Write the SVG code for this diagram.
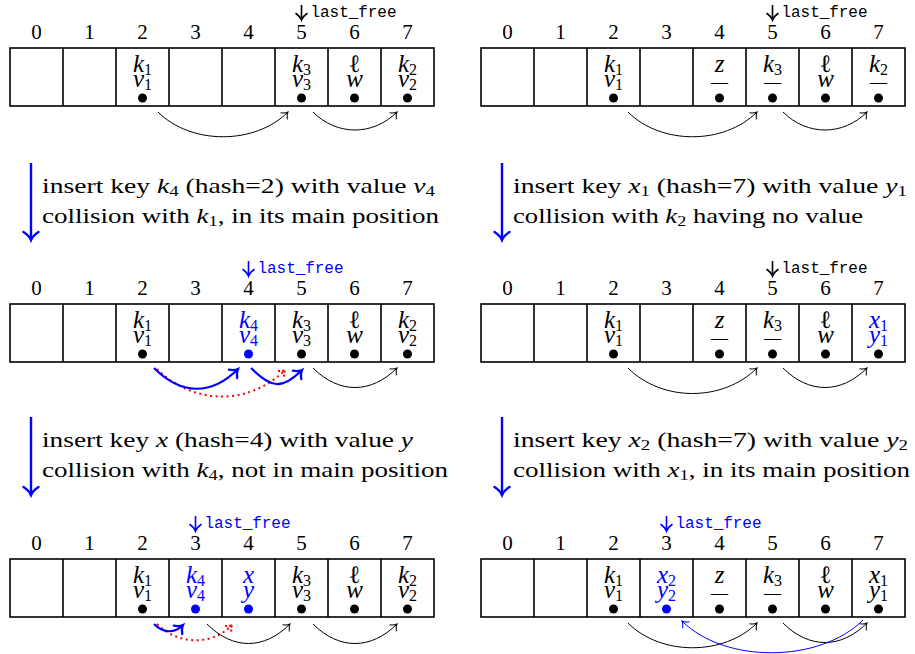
<svg xmlns="http://www.w3.org/2000/svg" width="915" height="654" viewBox="0 0 915 654">
<defs>
<style>
.tb{fill:none;stroke:#000;stroke-width:1.6}
.idx{font-family:"Liberation Serif",serif;font-size:21px;text-anchor:middle;fill:#000}
.m{font-family:"Liberation Serif","DejaVu Serif",serif;font-style:italic;font-size:25px;text-anchor:middle;fill:#000}
.r{font-style:normal}
.s{font-style:normal;font-size:16px}
.dash{font-style:normal;font-size:17px}
.lf{font-family:"Liberation Mono",monospace;font-size:16px;fill:#000}
.cap{font-family:"Liberation Serif",serif;font-size:22px;fill:#000}
.i{font-style:italic}
.cs{font-size:15px}
.b{fill:#0000ff}
.arc{fill:none;stroke:#000;stroke-width:1}
.barc{fill:none;stroke:#0000ff;stroke-width:2.2}
.tarc{fill:none;stroke:#0000ff;stroke-width:1}
.rarc{fill:none;stroke:#ff0000;stroke-width:2;stroke-dasharray:2 3.5}
.capar{fill:none;stroke:#0000ff;stroke-width:2.4}
.lfk{fill:none;stroke:#000;stroke-width:1.6}
.lfb{fill:none;stroke:#0000ff;stroke-width:1.6}
</style>
<marker id="ak" viewBox="-10 -10 20 20" markerWidth="20" markerHeight="20" refX="0" refY="0" orient="auto" markerUnits="userSpaceOnUse" overflow="visible"><path d="M-5.5,-4.5 C-3.5,-1.8 -1.3,-0.5 0,0 C-1.3,0.5 -3.5,1.8 -5.5,4.5" fill="none" stroke="#000" stroke-width="1" stroke-linecap="round"/></marker>
<marker id="at" viewBox="-10 -10 20 20" markerWidth="20" markerHeight="20" refX="0" refY="0" orient="auto" markerUnits="userSpaceOnUse" overflow="visible"><path d="M-5.5,-4.5 C-3.5,-1.8 -1.3,-0.5 0,0 C-1.3,0.5 -3.5,1.8 -5.5,4.5" fill="none" stroke="#0000ff" stroke-width="1" stroke-linecap="round"/></marker>
<marker id="ab" viewBox="-10 -10 20 20" markerWidth="20" markerHeight="20" refX="0" refY="0" orient="auto" markerUnits="userSpaceOnUse" overflow="visible"><path d="M-7,-6 C-4.5,-2.4 -1.7,-0.6 0,0 C-1.7,0.6 -4.5,2.4 -7,6" fill="none" stroke="#0000ff" stroke-width="2.2" stroke-linecap="round"/></marker>
<marker id="ar" viewBox="-10 -10 20 20" markerWidth="20" markerHeight="20" refX="0" refY="0" orient="auto" markerUnits="userSpaceOnUse" overflow="visible"><path d="M-5.5,-4.5 C-3.5,-1.8 -1.3,-0.5 0,0 C-1.3,0.5 -3.5,1.8 -5.5,4.5" fill="none" stroke="#ff0000" stroke-width="2" stroke-dasharray="2 2"/></marker>
<marker id="acap" viewBox="-10 -10 20 20" markerWidth="20" markerHeight="20" refX="0" refY="0" orient="auto" markerUnits="userSpaceOnUse" overflow="visible"><path d="M-8,-7.5 C-5,-3 -2,-0.8 0,0 C-2,0.8 -5,3 -8,7.5" fill="none" stroke="#0000ff" stroke-width="2.4" stroke-linecap="round"/></marker>
<marker id="alfk" viewBox="-10 -10 20 20" markerWidth="20" markerHeight="20" refX="0" refY="0" orient="auto" markerUnits="userSpaceOnUse" overflow="visible"><path d="M-6.5,-5.5 C-4,-2 -1.5,-0.5 0,0 C-1.5,0.5 -4,2 -6.5,5.5" fill="none" stroke="#000" stroke-width="1.6" stroke-linecap="round"/></marker>
<marker id="alfb" viewBox="-10 -10 20 20" markerWidth="20" markerHeight="20" refX="0" refY="0" orient="auto" markerUnits="userSpaceOnUse" overflow="visible"><path d="M-6.5,-5.5 C-4,-2 -1.5,-0.5 0,0 C-1.5,0.5 -4,2 -6.5,5.5" fill="none" stroke="#0000ff" stroke-width="1.6" stroke-linecap="round"/></marker>
</defs>
<rect width="915" height="654" fill="#fff"/>

<!-- Panel A -->
<g id="panel-a">
<rect class="tb" x="10" y="48" width="424" height="58"/>
<path class="tb" d="M63,48V106M116,48V106M169,48V106M222,48V106M275,48V106M328,48V106M381,48V106"/>
<g class="idx"><text x="36.5" y="39">0</text><text x="89.5" y="39">1</text><text x="142.5" y="39">2</text><text x="195.5" y="39">3</text><text x="248.5" y="39">4</text><text x="301.5" y="39">5</text><text x="354.5" y="39">6</text><text x="407.5" y="39">7</text></g>
<g id="a-lastfree"><path class="lfk" d="M301.5,5V20" marker-end="url(#alfk)"/><text class="lf" x="310.5" y="17" textLength="86">last_free</text></g>
<g id="a-c2"><text class="m" x="142.5" y="72">k<tspan class="s" dy="3">1</tspan><tspan x="142.5" y="87">v</tspan><tspan class="s" dy="3">1</tspan></text><circle cx="142.5" cy="98" r="4.5"/></g>
<g id="a-c5"><text class="m" x="301.5" y="72">k<tspan class="s" dy="3">3</tspan><tspan x="301.5" y="87">v</tspan><tspan class="s" dy="3">3</tspan></text><circle cx="301.5" cy="98" r="4.5"/></g>
<g id="a-c6"><text class="m" x="354.5" y="72"><tspan class="r">ℓ</tspan><tspan x="354.5" y="87">w</tspan></text><circle cx="354.5" cy="98" r="4.5"/></g>
<g id="a-c7"><text class="m" x="407.5" y="72">k<tspan class="s" dy="3">2</tspan><tspan x="407.5" y="87">v</tspan><tspan class="s" dy="3">2</tspan></text><circle cx="407.5" cy="98" r="4.5"/></g>
</g>

<!-- Panel B -->
<g id="panel-b" transform="translate(471,0)">
<rect class="tb" x="10" y="48" width="424" height="58"/>
<path class="tb" d="M63,48V106M116,48V106M169,48V106M222,48V106M275,48V106M328,48V106M381,48V106"/>
<g class="idx"><text x="36.5" y="39">0</text><text x="89.5" y="39">1</text><text x="142.5" y="39">2</text><text x="195.5" y="39">3</text><text x="248.5" y="39">4</text><text x="301.5" y="39">5</text><text x="354.5" y="39">6</text><text x="407.5" y="39">7</text></g>
<g id="b-lastfree"><path class="lfk" d="M301.5,5V20" marker-end="url(#alfk)"/><text class="lf" x="310.5" y="17" textLength="86">last_free</text></g>
<g id="b-c2"><text class="m" x="142.5" y="72">k<tspan class="s" dy="3">1</tspan><tspan x="142.5" y="87">v</tspan><tspan class="s" dy="3">1</tspan></text><circle cx="142.5" cy="98" r="4.5"/></g>
<g id="b-c4"><text class="m" x="248.5" y="72">z<tspan class="dash" x="248.5" y="87">—</tspan></text><circle cx="248.5" cy="98" r="4.5"/></g>
<g id="b-c5"><text class="m" x="301.5" y="72">k<tspan class="s" dy="3">3</tspan><tspan class="dash" x="301.5" y="87">—</tspan></text><circle cx="301.5" cy="98" r="4.5"/></g>
<g id="b-c6"><text class="m" x="354.5" y="72"><tspan class="r">ℓ</tspan><tspan x="354.5" y="87">w</tspan></text><circle cx="354.5" cy="98" r="4.5"/></g>
<g id="b-c7"><text class="m" x="407.5" y="72">k<tspan class="s" dy="3">2</tspan><tspan class="dash" x="407.5" y="87">—</tspan></text><circle cx="407.5" cy="98" r="4.5"/></g>
</g>

<!-- Panel C -->
<g id="panel-c" transform="translate(0,256)">
<rect class="tb" x="10" y="48" width="424" height="58"/>
<path class="tb" d="M63,48V106M116,48V106M169,48V106M222,48V106M275,48V106M328,48V106M381,48V106"/>
<g class="idx"><text x="36.5" y="39">0</text><text x="89.5" y="39">1</text><text x="142.5" y="39">2</text><text x="195.5" y="39">3</text><text x="248.5" y="39">4</text><text x="301.5" y="39">5</text><text x="354.5" y="39">6</text><text x="407.5" y="39">7</text></g>
<g id="c-lastfree"><path class="lfb" d="M248.5,5V20" marker-end="url(#alfb)"/><text class="lf b" x="257.5" y="17" textLength="86">last_free</text></g>
<g id="c-c2"><text class="m" x="142.5" y="72">k<tspan class="s" dy="3">1</tspan><tspan x="142.5" y="87">v</tspan><tspan class="s" dy="3">1</tspan></text><circle cx="142.5" cy="98" r="4.5"/></g>
<g id="c-c4"><text class="m b" x="248.5" y="72">k<tspan class="s" dy="3">4</tspan><tspan x="248.5" y="87">v</tspan><tspan class="s" dy="3">4</tspan></text><circle class="b" cx="248.5" cy="98" r="4.5"/></g>
<g id="c-c5"><text class="m" x="301.5" y="72">k<tspan class="s" dy="3">3</tspan><tspan x="301.5" y="87">v</tspan><tspan class="s" dy="3">3</tspan></text><circle cx="301.5" cy="98" r="4.5"/></g>
<g id="c-c6"><text class="m" x="354.5" y="72"><tspan class="r">ℓ</tspan><tspan x="354.5" y="87">w</tspan></text><circle cx="354.5" cy="98" r="4.5"/></g>
<g id="c-c7"><text class="m" x="407.5" y="72">k<tspan class="s" dy="3">2</tspan><tspan x="407.5" y="87">v</tspan><tspan class="s" dy="3">2</tspan></text><circle cx="407.5" cy="98" r="4.5"/></g>
</g>

<!-- Panel D -->
<g id="panel-d" transform="translate(471,256)">
<rect class="tb" x="10" y="48" width="424" height="58"/>
<path class="tb" d="M63,48V106M116,48V106M169,48V106M222,48V106M275,48V106M328,48V106M381,48V106"/>
<g class="idx"><text x="36.5" y="39">0</text><text x="89.5" y="39">1</text><text x="142.5" y="39">2</text><text x="195.5" y="39">3</text><text x="248.5" y="39">4</text><text x="301.5" y="39">5</text><text x="354.5" y="39">6</text><text x="407.5" y="39">7</text></g>
<g id="d-lastfree"><path class="lfk" d="M301.5,5V20" marker-end="url(#alfk)"/><text class="lf" x="310.5" y="17" textLength="86">last_free</text></g>
<g id="d-c2"><text class="m" x="142.5" y="72">k<tspan class="s" dy="3">1</tspan><tspan x="142.5" y="87">v</tspan><tspan class="s" dy="3">1</tspan></text><circle cx="142.5" cy="98" r="4.5"/></g>
<g id="d-c4"><text class="m" x="248.5" y="72">z<tspan class="dash" x="248.5" y="87">—</tspan></text><circle cx="248.5" cy="98" r="4.5"/></g>
<g id="d-c5"><text class="m" x="301.5" y="72">k<tspan class="s" dy="3">3</tspan><tspan class="dash" x="301.5" y="87">—</tspan></text><circle cx="301.5" cy="98" r="4.5"/></g>
<g id="d-c6"><text class="m" x="354.5" y="72"><tspan class="r">ℓ</tspan><tspan x="354.5" y="87">w</tspan></text><circle cx="354.5" cy="98" r="4.5"/></g>
<g id="d-c7"><text class="m b" x="407.5" y="72">x<tspan class="s" dy="3">1</tspan><tspan x="407.5" y="87">y</tspan><tspan class="s" dy="3">1</tspan></text><circle cx="407.5" cy="98" r="4.5"/></g>
</g>

<!-- Panel E -->
<g id="panel-e" transform="translate(0,511)">
<rect class="tb" x="10" y="48" width="424" height="58"/>
<path class="tb" d="M63,48V106M116,48V106M169,48V106M222,48V106M275,48V106M328,48V106M381,48V106"/>
<g class="idx"><text x="36.5" y="39">0</text><text x="89.5" y="39">1</text><text x="142.5" y="39">2</text><text x="195.5" y="39">3</text><text x="248.5" y="39">4</text><text x="301.5" y="39">5</text><text x="354.5" y="39">6</text><text x="407.5" y="39">7</text></g>
<g id="e-lastfree"><path class="lfb" d="M195.5,5V20" marker-end="url(#alfb)"/><text class="lf b" x="204.5" y="17" textLength="86">last_free</text></g>
<g id="e-c2"><text class="m" x="142.5" y="72">k<tspan class="s" dy="3">1</tspan><tspan x="142.5" y="87">v</tspan><tspan class="s" dy="3">1</tspan></text><circle cx="142.5" cy="98" r="4.5"/></g>
<g id="e-c3"><text class="m b" x="195.5" y="72">k<tspan class="s" dy="3">4</tspan><tspan x="195.5" y="87">v</tspan><tspan class="s" dy="3">4</tspan></text><circle class="b" cx="195.5" cy="98" r="4.5"/></g>
<g id="e-c4"><text class="m b" x="248.5" y="72">x<tspan x="248.5" y="87">y</tspan></text><circle class="b" cx="248.5" cy="98" r="4.5"/></g>
<g id="e-c5"><text class="m" x="301.5" y="72">k<tspan class="s" dy="3">3</tspan><tspan x="301.5" y="87">v</tspan><tspan class="s" dy="3">3</tspan></text><circle cx="301.5" cy="98" r="4.5"/></g>
<g id="e-c6"><text class="m" x="354.5" y="72"><tspan class="r">ℓ</tspan><tspan x="354.5" y="87">w</tspan></text><circle cx="354.5" cy="98" r="4.5"/></g>
<g id="e-c7"><text class="m" x="407.5" y="72">k<tspan class="s" dy="3">2</tspan><tspan x="407.5" y="87">v</tspan><tspan class="s" dy="3">2</tspan></text><circle cx="407.5" cy="98" r="4.5"/></g>
</g>

<!-- Panel F -->
<g id="panel-f" transform="translate(471,511)">
<rect class="tb" x="10" y="48" width="424" height="58"/>
<path class="tb" d="M63,48V106M116,48V106M169,48V106M222,48V106M275,48V106M328,48V106M381,48V106"/>
<g class="idx"><text x="36.5" y="39">0</text><text x="89.5" y="39">1</text><text x="142.5" y="39">2</text><text x="195.5" y="39">3</text><text x="248.5" y="39">4</text><text x="301.5" y="39">5</text><text x="354.5" y="39">6</text><text x="407.5" y="39">7</text></g>
<g id="f-lastfree"><path class="lfb" d="M195.5,5V20" marker-end="url(#alfb)"/><text class="lf b" x="204.5" y="17" textLength="86">last_free</text></g>
<g id="f-c2"><text class="m" x="142.5" y="72">k<tspan class="s" dy="3">1</tspan><tspan x="142.5" y="87">v</tspan><tspan class="s" dy="3">1</tspan></text><circle cx="142.5" cy="98" r="4.5"/></g>
<g id="f-c3"><text class="m b" x="195.5" y="72">x<tspan class="s" dy="3">2</tspan><tspan x="195.5" y="87">y</tspan><tspan class="s" dy="3">2</tspan></text><circle class="b" cx="195.5" cy="98" r="4.5"/></g>
<g id="f-c4"><text class="m" x="248.5" y="72">z<tspan class="dash" x="248.5" y="87">—</tspan></text><circle cx="248.5" cy="98" r="4.5"/></g>
<g id="f-c5"><text class="m" x="301.5" y="72">k<tspan class="s" dy="3">3</tspan><tspan class="dash" x="301.5" y="87">—</tspan></text><circle cx="301.5" cy="98" r="4.5"/></g>
<g id="f-c6"><text class="m" x="354.5" y="72"><tspan class="r">ℓ</tspan><tspan x="354.5" y="87">w</tspan></text><circle cx="354.5" cy="98" r="4.5"/></g>
<g id="f-c7"><text class="m" x="407.5" y="72">x<tspan class="s" dy="3">1</tspan><tspan x="407.5" y="87">y</tspan><tspan class="s" dy="3">1</tspan></text><circle cx="407.5" cy="98" r="4.5"/></g>
</g>

<!-- Captions -->
<g id="caption-1l">
<text class="cap" x="42" y="193" textLength="393" lengthAdjust="spacingAndGlyphs">insert key <tspan class="i">k</tspan><tspan class="cs" dy="3">4</tspan><tspan dy="-3"> (hash=2) with value </tspan><tspan class="i">v</tspan><tspan class="cs" dy="3">4</tspan></text>
<text class="cap" x="42" y="223" textLength="397" lengthAdjust="spacingAndGlyphs">collision with <tspan class="i">k</tspan><tspan class="cs" dy="3">1</tspan><tspan dy="-3">, in its main position</tspan></text>
</g>
<g id="caption-1r">
<text class="cap" x="513" y="193" textLength="394" lengthAdjust="spacingAndGlyphs">insert key <tspan class="i">x</tspan><tspan class="cs" dy="3">1</tspan><tspan dy="-3"> (hash=7) with value </tspan><tspan class="i">y</tspan><tspan class="cs" dy="3">1</tspan></text>
<text class="cap" x="513" y="223" textLength="350" lengthAdjust="spacingAndGlyphs">collision with <tspan class="i">k</tspan><tspan class="cs" dy="3">2</tspan><tspan dy="-3"> having no value</tspan></text>
</g>
<g id="caption-2l">
<text class="cap" x="42" y="447" textLength="371" lengthAdjust="spacingAndGlyphs">insert key <tspan class="i">x</tspan> (hash=4) with value <tspan class="i">y</tspan></text>
<text class="cap" x="42" y="477" textLength="406" lengthAdjust="spacingAndGlyphs">collision with <tspan class="i">k</tspan><tspan class="cs" dy="3">4</tspan><tspan dy="-3">, not in main position</tspan></text>
</g>
<g id="caption-2r">
<text class="cap" x="513" y="447" textLength="395" lengthAdjust="spacingAndGlyphs">insert key <tspan class="i">x</tspan><tspan class="cs" dy="3">2</tspan><tspan dy="-3"> (hash=7) with value </tspan><tspan class="i">y</tspan><tspan class="cs" dy="3">2</tspan></text>
<text class="cap" x="513" y="477" textLength="397" lengthAdjust="spacingAndGlyphs">collision with <tspan class="i">x</tspan><tspan class="cs" dy="3">1</tspan><tspan dy="-3">, in its main position</tspan></text>
</g>

<!-- Connectors -->
<g id="connectors">
<path class="capar" d="M31,163V240" marker-end="url(#acap)"/>
<path class="capar" d="M502,163V240" marker-end="url(#acap)"/>
<path class="capar" d="M31,417V495" marker-end="url(#acap)"/>
<path class="capar" d="M502,417V495" marker-end="url(#acap)"/>

<path class="arc" d="M158,112 C191,145 255,145 288,112" marker-end="url(#ak)"/>
<path class="arc" d="M313,112 C337,136 373,136 397,112" marker-end="url(#ak)"/>
<path class="arc" d="M628,112 C661,145 724,145 757,112" marker-end="url(#ak)"/>
<path class="arc" d="M783,112 C807,136 843,136 867,112" marker-end="url(#ak)"/>

<path class="rarc" d="M157,369 C193,405 249,406 285,370" marker-end="url(#ar)"/>
<path class="barc" d="M154,368 C181,395 211,396 238,369" marker-end="url(#ab)"/>
<path class="barc" d="M251,368 C271,388 282,390 302,370" marker-end="url(#ab)"/>
<path class="arc" d="M313,368 C339,394 371,394 397,368" marker-end="url(#ak)"/>
<path class="arc" d="M628,368 C662,402 723,402 757,368" marker-end="url(#ak)"/>
<path class="arc" d="M783,368 C809,394 841,394 867,368" marker-end="url(#ak)"/>

<path class="rarc" d="M157,624 C178,645 212,646 232,625" marker-end="url(#ar)"/>
<path class="barc" d="M154,624 C163,633 174,634 183,625" marker-end="url(#ab)"/>
<path class="arc" d="M207,624 C233,650 264,650 290,624" marker-end="url(#ak)"/>
<path class="arc" d="M313,624 C339,650 371,650 397,624" marker-end="url(#ak)"/>
<path class="arc" d="M628,623 C661,656 724,656 757,623" marker-end="url(#ak)"/>
<path class="arc" d="M783,623 C809,649 841,649 867,623" marker-end="url(#ak)"/>
<path class="tarc" d="M863,620 C820,663 725,664 682,621" marker-end="url(#at)"/>
</g>
</svg>
